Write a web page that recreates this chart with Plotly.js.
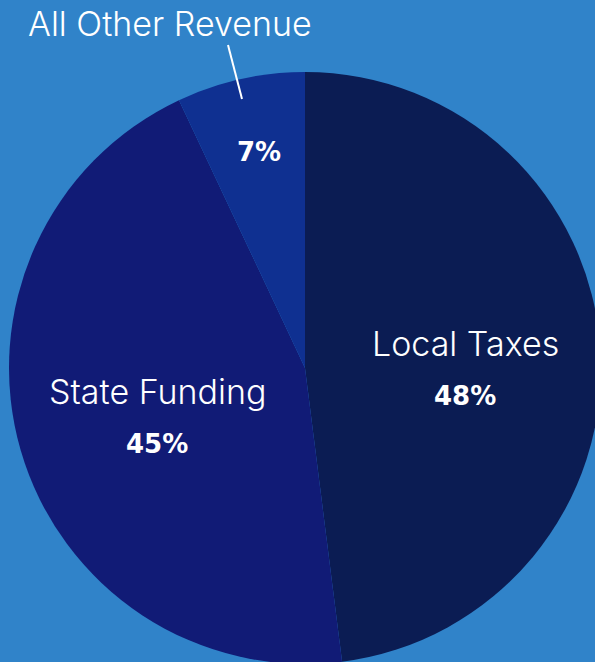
<!DOCTYPE html>
<html>
<head>
<meta charset="utf-8">
<script src="https://cdn.plot.ly/plotly-3.0.1.min.js"></script>
<style>
html,body{margin:0;padding:0;overflow:hidden;background:#3083c9;width:595px;height:662px;}
#chart{width:610px;height:740px;}
</style>
</head>
<body>
<div id="chart"></div>
<script>
const labels = ["Local Taxes", "State Funding", "All Other Revenue"];
const values = [48, 45, 7];
const colors = ["#0b1c53", "#111b76", "#0f3091"];

const W = 610, H = 740;
const px = x => x / W;
const py = y => 1 - y / H;

const trace = {
  type: "pie",
  labels: labels,
  values: values,
  sort: false,
  direction: "clockwise",
  rotation: 0,
  textinfo: "none",
  hoverinfo: "label+percent",
  marker: {colors: colors, line: {width: 0}},
  domain: {x: [0, 1], y: [(H - 664) / H, (H - 72) / H]},
  showlegend: false
};

const labelFont = {family: "Inter, 'Open Sans', sans-serif", size: 34, color: "#ffffff", weight: 300};
const pctFont = {family: "'DejaVu Sans', sans-serif", size: 26, color: "#ffffff", weight: 700};

const labelPos = [[465, 343], [157, 391], [170, 23]];
const pctPos = [[465, 396], [157, 444], [259, 152]];

const annotations = [];
labels.forEach((lab, i) => {
  annotations.push({xref: "paper", yref: "paper", x: px(labelPos[i][0]), y: py(labelPos[i][1]),
    xanchor: "center", yanchor: "middle", showarrow: false, text: lab, font: labelFont});
  annotations.push({xref: "paper", yref: "paper", x: px(pctPos[i][0]), y: py(pctPos[i][1]),
    xanchor: "center", yanchor: "middle", showarrow: false, text: values[i] + "%", font: pctFont});
});

const layout = {
  width: W, height: H,
  margin: {l: 0, r: 0, t: 0, b: 0},
  paper_bgcolor: "#3083c9",
  plot_bgcolor: "#3083c9",
  annotations: annotations,
  shapes: [{type: "line", xref: "paper", yref: "paper",
    x0: px(228), y0: py(45), x1: px(242), y1: py(99),
    line: {color: "#ffffff", width: 2}}]
};

Plotly.newPlot("chart", [trace], layout, {displayModeBar: false, staticPlot: true});
</script>
</body>
</html>
